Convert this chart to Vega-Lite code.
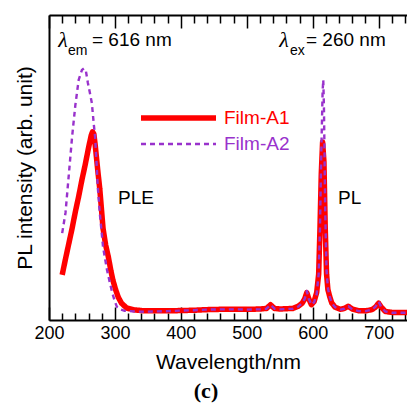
{
  "$schema": "https://vega.github.io/schema/vega-lite/v6.json",
  "width": 358,
  "height": 305,
  "autosize": {"type": "none"},
  "padding": {"left": 49, "top": 15, "right": 0, "bottom": 83},
  "config": {
    "view": {"stroke": null},
    "font": "Liberation Sans",
    "axisY": {
      "domain": true, "ticks": true, "tickSize": 0, "labels": false, "grid": false,
      "domainColor": "black", "domainWidth": 2,
      "titleFontSize": 21, "titleFontWeight": "normal", "titleColor": "black", "titlePadding": 13
    }
  },
  "title": {"text": "(c)", "orient": "bottom", "font": "Liberation Serif", "fontSize": 22, "fontWeight": "bold", "color": "black", "anchor": "middle", "frame": "group", "dx": -22, "offset": 9},
  "datasets": {
    "spectra": [
      {"film": "Film-A1", "wavelength": 220, "intensity": 0.148},
      {"film": "Film-A1", "wavelength": 225, "intensity": 0.2},
      {"film": "Film-A1", "wavelength": 230, "intensity": 0.25},
      {"film": "Film-A1", "wavelength": 235, "intensity": 0.3},
      {"film": "Film-A1", "wavelength": 240, "intensity": 0.355},
      {"film": "Film-A1", "wavelength": 245, "intensity": 0.405},
      {"film": "Film-A1", "wavelength": 250, "intensity": 0.46},
      {"film": "Film-A1", "wavelength": 255, "intensity": 0.51},
      {"film": "Film-A1", "wavelength": 260, "intensity": 0.565},
      {"film": "Film-A1", "wavelength": 264, "intensity": 0.605},
      {"film": "Film-A1", "wavelength": 266, "intensity": 0.617},
      {"film": "Film-A1", "wavelength": 268, "intensity": 0.61},
      {"film": "Film-A1", "wavelength": 270, "intensity": 0.575},
      {"film": "Film-A1", "wavelength": 274, "intensity": 0.49},
      {"film": "Film-A1", "wavelength": 277, "intensity": 0.43},
      {"film": "Film-A1", "wavelength": 282, "intensity": 0.3},
      {"film": "Film-A1", "wavelength": 286, "intensity": 0.245},
      {"film": "Film-A1", "wavelength": 290, "intensity": 0.207},
      {"film": "Film-A1", "wavelength": 294, "intensity": 0.16},
      {"film": "Film-A1", "wavelength": 297, "intensity": 0.13},
      {"film": "Film-A1", "wavelength": 301, "intensity": 0.1},
      {"film": "Film-A1", "wavelength": 305, "intensity": 0.075},
      {"film": "Film-A1", "wavelength": 310, "intensity": 0.055},
      {"film": "Film-A1", "wavelength": 318, "intensity": 0.039},
      {"film": "Film-A1", "wavelength": 330, "intensity": 0.033},
      {"film": "Film-A1", "wavelength": 345, "intensity": 0.03},
      {"film": "Film-A1", "wavelength": 360, "intensity": 0.03},
      {"film": "Film-A1", "wavelength": 380, "intensity": 0.03},
      {"film": "Film-A1", "wavelength": 400, "intensity": 0.031},
      {"film": "Film-A1", "wavelength": 420, "intensity": 0.032},
      {"film": "Film-A1", "wavelength": 440, "intensity": 0.034},
      {"film": "Film-A1", "wavelength": 460, "intensity": 0.035},
      {"film": "Film-A1", "wavelength": 480, "intensity": 0.035},
      {"film": "Film-A1", "wavelength": 500, "intensity": 0.035},
      {"film": "Film-A1", "wavelength": 520, "intensity": 0.036},
      {"film": "Film-A1", "wavelength": 530, "intensity": 0.038},
      {"film": "Film-A1", "wavelength": 536, "intensity": 0.05},
      {"film": "Film-A1", "wavelength": 542, "intensity": 0.038},
      {"film": "Film-A1", "wavelength": 550, "intensity": 0.036},
      {"film": "Film-A1", "wavelength": 560, "intensity": 0.037},
      {"film": "Film-A1", "wavelength": 570, "intensity": 0.038},
      {"film": "Film-A1", "wavelength": 578, "intensity": 0.045},
      {"film": "Film-A1", "wavelength": 584, "intensity": 0.055},
      {"film": "Film-A1", "wavelength": 588, "intensity": 0.07},
      {"film": "Film-A1", "wavelength": 591, "intensity": 0.09},
      {"film": "Film-A1", "wavelength": 594, "intensity": 0.07},
      {"film": "Film-A1", "wavelength": 598, "intensity": 0.05},
      {"film": "Film-A1", "wavelength": 602, "intensity": 0.06},
      {"film": "Film-A1", "wavelength": 606, "intensity": 0.09},
      {"film": "Film-A1", "wavelength": 609, "intensity": 0.15},
      {"film": "Film-A1", "wavelength": 611, "intensity": 0.3},
      {"film": "Film-A1", "wavelength": 613, "intensity": 0.48},
      {"film": "Film-A1", "wavelength": 615, "intensity": 0.584},
      {"film": "Film-A1", "wavelength": 617, "intensity": 0.52},
      {"film": "Film-A1", "wavelength": 619, "intensity": 0.3},
      {"film": "Film-A1", "wavelength": 621, "intensity": 0.15},
      {"film": "Film-A1", "wavelength": 623, "intensity": 0.1},
      {"film": "Film-A1", "wavelength": 626, "intensity": 0.075},
      {"film": "Film-A1", "wavelength": 629, "intensity": 0.055},
      {"film": "Film-A1", "wavelength": 634, "intensity": 0.042},
      {"film": "Film-A1", "wavelength": 642, "intensity": 0.035},
      {"film": "Film-A1", "wavelength": 648, "intensity": 0.038},
      {"film": "Film-A1", "wavelength": 654, "intensity": 0.045},
      {"film": "Film-A1", "wavelength": 660, "intensity": 0.036},
      {"film": "Film-A1", "wavelength": 670, "intensity": 0.03},
      {"film": "Film-A1", "wavelength": 680, "intensity": 0.03},
      {"film": "Film-A1", "wavelength": 690, "intensity": 0.034},
      {"film": "Film-A1", "wavelength": 695, "intensity": 0.042},
      {"film": "Film-A1", "wavelength": 700, "intensity": 0.055},
      {"film": "Film-A1", "wavelength": 704, "intensity": 0.042},
      {"film": "Film-A1", "wavelength": 710, "intensity": 0.028},
      {"film": "Film-A1", "wavelength": 720, "intensity": 0.025},
      {"film": "Film-A1", "wavelength": 730, "intensity": 0.025},
      {"film": "Film-A1", "wavelength": 743, "intensity": 0.025},
      {"film": "Film-A2", "wavelength": 220, "intensity": 0.285},
      {"film": "Film-A2", "wavelength": 225, "intensity": 0.351},
      {"film": "Film-A2", "wavelength": 230, "intensity": 0.475},
      {"film": "Film-A2", "wavelength": 235, "intensity": 0.6},
      {"film": "Film-A2", "wavelength": 240, "intensity": 0.705},
      {"film": "Film-A2", "wavelength": 245, "intensity": 0.787},
      {"film": "Film-A2", "wavelength": 250, "intensity": 0.82},
      {"film": "Film-A2", "wavelength": 253, "intensity": 0.825},
      {"film": "Film-A2", "wavelength": 256, "intensity": 0.816},
      {"film": "Film-A2", "wavelength": 259, "intensity": 0.777},
      {"film": "Film-A2", "wavelength": 262, "intensity": 0.745},
      {"film": "Film-A2", "wavelength": 265, "intensity": 0.711},
      {"film": "Film-A2", "wavelength": 268, "intensity": 0.64},
      {"film": "Film-A2", "wavelength": 270, "intensity": 0.6},
      {"film": "Film-A2", "wavelength": 272, "intensity": 0.52},
      {"film": "Film-A2", "wavelength": 274, "intensity": 0.436},
      {"film": "Film-A2", "wavelength": 277, "intensity": 0.351},
      {"film": "Film-A2", "wavelength": 282, "intensity": 0.239},
      {"film": "Film-A2", "wavelength": 288, "intensity": 0.164},
      {"film": "Film-A2", "wavelength": 292, "intensity": 0.125},
      {"film": "Film-A2", "wavelength": 296, "intensity": 0.089},
      {"film": "Film-A2", "wavelength": 300, "intensity": 0.06},
      {"film": "Film-A2", "wavelength": 303, "intensity": 0.043},
      {"film": "Film-A2", "wavelength": 308, "intensity": 0.035},
      {"film": "Film-A2", "wavelength": 315, "intensity": 0.03},
      {"film": "Film-A2", "wavelength": 330, "intensity": 0.028},
      {"film": "Film-A2", "wavelength": 345, "intensity": 0.027},
      {"film": "Film-A2", "wavelength": 360, "intensity": 0.028},
      {"film": "Film-A2", "wavelength": 380, "intensity": 0.029},
      {"film": "Film-A2", "wavelength": 400, "intensity": 0.031},
      {"film": "Film-A2", "wavelength": 420, "intensity": 0.032},
      {"film": "Film-A2", "wavelength": 440, "intensity": 0.034},
      {"film": "Film-A2", "wavelength": 460, "intensity": 0.035},
      {"film": "Film-A2", "wavelength": 480, "intensity": 0.035},
      {"film": "Film-A2", "wavelength": 500, "intensity": 0.034},
      {"film": "Film-A2", "wavelength": 520, "intensity": 0.035},
      {"film": "Film-A2", "wavelength": 530, "intensity": 0.037},
      {"film": "Film-A2", "wavelength": 536, "intensity": 0.05},
      {"film": "Film-A2", "wavelength": 542, "intensity": 0.037},
      {"film": "Film-A2", "wavelength": 550, "intensity": 0.035},
      {"film": "Film-A2", "wavelength": 560, "intensity": 0.036},
      {"film": "Film-A2", "wavelength": 570, "intensity": 0.037},
      {"film": "Film-A2", "wavelength": 578, "intensity": 0.044},
      {"film": "Film-A2", "wavelength": 584, "intensity": 0.055},
      {"film": "Film-A2", "wavelength": 588, "intensity": 0.07},
      {"film": "Film-A2", "wavelength": 591, "intensity": 0.095},
      {"film": "Film-A2", "wavelength": 594, "intensity": 0.07},
      {"film": "Film-A2", "wavelength": 598, "intensity": 0.05},
      {"film": "Film-A2", "wavelength": 602, "intensity": 0.058},
      {"film": "Film-A2", "wavelength": 606, "intensity": 0.085},
      {"film": "Film-A2", "wavelength": 609, "intensity": 0.15},
      {"film": "Film-A2", "wavelength": 611, "intensity": 0.3},
      {"film": "Film-A2", "wavelength": 613, "intensity": 0.55},
      {"film": "Film-A2", "wavelength": 615, "intensity": 0.75},
      {"film": "Film-A2", "wavelength": 616, "intensity": 0.787},
      {"film": "Film-A2", "wavelength": 617, "intensity": 0.7},
      {"film": "Film-A2", "wavelength": 619, "intensity": 0.35},
      {"film": "Film-A2", "wavelength": 621, "intensity": 0.16},
      {"film": "Film-A2", "wavelength": 623, "intensity": 0.105},
      {"film": "Film-A2", "wavelength": 626, "intensity": 0.075},
      {"film": "Film-A2", "wavelength": 629, "intensity": 0.055},
      {"film": "Film-A2", "wavelength": 634, "intensity": 0.042},
      {"film": "Film-A2", "wavelength": 642, "intensity": 0.034},
      {"film": "Film-A2", "wavelength": 648, "intensity": 0.037},
      {"film": "Film-A2", "wavelength": 654, "intensity": 0.045},
      {"film": "Film-A2", "wavelength": 660, "intensity": 0.035},
      {"film": "Film-A2", "wavelength": 670, "intensity": 0.029},
      {"film": "Film-A2", "wavelength": 680, "intensity": 0.029},
      {"film": "Film-A2", "wavelength": 690, "intensity": 0.034},
      {"film": "Film-A2", "wavelength": 695, "intensity": 0.043},
      {"film": "Film-A2", "wavelength": 700, "intensity": 0.06},
      {"film": "Film-A2", "wavelength": 704, "intensity": 0.043},
      {"film": "Film-A2", "wavelength": 710, "intensity": 0.028},
      {"film": "Film-A2", "wavelength": 720, "intensity": 0.024},
      {"film": "Film-A2", "wavelength": 730, "intensity": 0.024},
      {"film": "Film-A2", "wavelength": 743, "intensity": 0.024}
    ],
    "notes": [
      {"kind": "lambda", "text": "λ", "wavelength": 221.2, "intensity": 0.918},
      {"kind": "lambda", "text": "λ", "wavelength": 556.4, "intensity": 0.918},
      {"kind": "sub", "text": "em", "wavelength": 228.8, "intensity": 0.882},
      {"kind": "sub", "text": "ex", "wavelength": 565.5, "intensity": 0.882},
      {"kind": "main", "text": "= 616 nm", "wavelength": 265.2, "intensity": 0.918},
      {"kind": "main", "text": "= 260 nm", "wavelength": 589.8, "intensity": 0.918},
      {"kind": "main", "text": "PLE", "wavelength": 304.7, "intensity": 0.4},
      {"kind": "main", "text": "PL", "wavelength": 638.3, "intensity": 0.4}
    ]
  },
  "layer": [
    {
      "data": {"name": "spectra"},
      "mark": {"type": "line", "strokeJoin": "round", "strokeCap": "butt"},
      "encoding": {
        "x": {
          "field": "wavelength", "type": "quantitative",
          "scale": {"domain": [200, 743], "nice": false, "zero": false},
          "axis": {
            "orient": "bottom",
            "values": [200, 220, 240, 260, 280, 300, 320, 340, 360, 380, 400, 420, 440, 460, 480, 500, 520, 540, 560, 580, 600, 620, 640, 660, 680, 700, 720, 740],
            "labelExpr": "datum.value % 100 === 0 ? datum.label : ''",
            "tickSize": {"condition": {"test": "datum.value % 100 === 0", "value": -13}, "value": -7},
            "tickColor": "black", "tickWidth": 1.5,
            "domainColor": "black", "domainWidth": 2,
            "labelFontSize": 18, "labelColor": "black", "labelPadding": 17, "labelFlush": false, "labelOverlap": false,
            "grid": false,
            "title": "Wavelength/nm", "titleFontSize": 21, "titleFontWeight": "normal", "titleColor": "black", "titlePadding": 3
          }
        },
        "y": {
          "field": "intensity", "type": "quantitative",
          "scale": {"domain": [0, 1], "nice": false},
          "title": "PL intensity (arb. unit)"
        },
        "color": {
          "field": "film", "type": "nominal",
          "scale": {"domain": ["Film-A1", "Film-A2"], "range": ["#ff0000", "#9932cc"]},
          "legend": {
            "orient": "none", "legendX": 89, "legendY": 90, "title": null, "padding": 0,
            "symbolType": "stroke", "symbolSize": 5625, "clipHeight": 26, "rowPadding": 0,
            "labelOffset": 5, "labelFontSize": 19, "labelFont": "Liberation Sans",
            "labelColor": {"expr": "datum.label === 'Film-A1' ? '#ff0000' : '#9932cc'"}
          }
        },
        "strokeDash": {
          "field": "film", "type": "nominal",
          "scale": {"domain": ["Film-A1", "Film-A2"], "range": [[1, 0], [5, 4]]}
        },
        "strokeWidth": {
          "field": "film", "type": "nominal",
          "scale": {"domain": ["Film-A1", "Film-A2"], "range": [5.5, 2.4]}
        }
      }
    },
    {
      "data": {"name": "notes"},
      "transform": [{"filter": "datum.kind === 'lambda'"}],
      "mark": {"type": "text", "font": "Liberation Serif", "fontStyle": "italic", "fontSize": 22, "align": "center", "baseline": "middle", "color": "black"},
      "encoding": {
        "x": {
          "field": "wavelength", "type": "quantitative",
          "axis": {
            "orient": "top",
            "values": [200, 220, 240, 260, 280, 300, 320, 340, 360, 380, 400, 420, 440, 460, 480, 500, 520, 540, 560, 580, 600, 620, 640, 660, 680, 700, 720, 740],
            "labels": false,
            "tickSize": {"condition": {"test": "datum.value % 100 === 0", "value": -13}, "value": -8},
            "tickColor": "black", "tickWidth": 1.5,
            "domainColor": "black", "domainWidth": 2, "grid": false, "title": null
          }
        },
        "y": {"field": "intensity", "type": "quantitative", "title": "PL intensity (arb. unit)"},
        "text": {"field": "text"}
      }
    },
    {
      "data": {"name": "notes"},
      "transform": [{"filter": "datum.kind === 'sub'"}],
      "mark": {"type": "text", "fontSize": 14, "align": "left", "baseline": "middle", "color": "black"},
      "encoding": {
        "x": {"field": "wavelength", "type": "quantitative", "axis": null},
        "y": {"field": "intensity", "type": "quantitative", "title": "PL intensity (arb. unit)"},
        "text": {"field": "text"}
      }
    },
    {
      "data": {"name": "notes"},
      "transform": [{"filter": "datum.kind === 'main'"}],
      "mark": {"type": "text", "fontSize": 19, "align": "left", "baseline": "middle", "color": "black"},
      "encoding": {
        "x": {"field": "wavelength", "type": "quantitative", "axis": null},
        "y": {"field": "intensity", "type": "quantitative", "title": "PL intensity (arb. unit)"},
        "text": {"field": "text"}
      }
    }
  ],
  "resolve": {"axis": {"x": "independent"}}
}
